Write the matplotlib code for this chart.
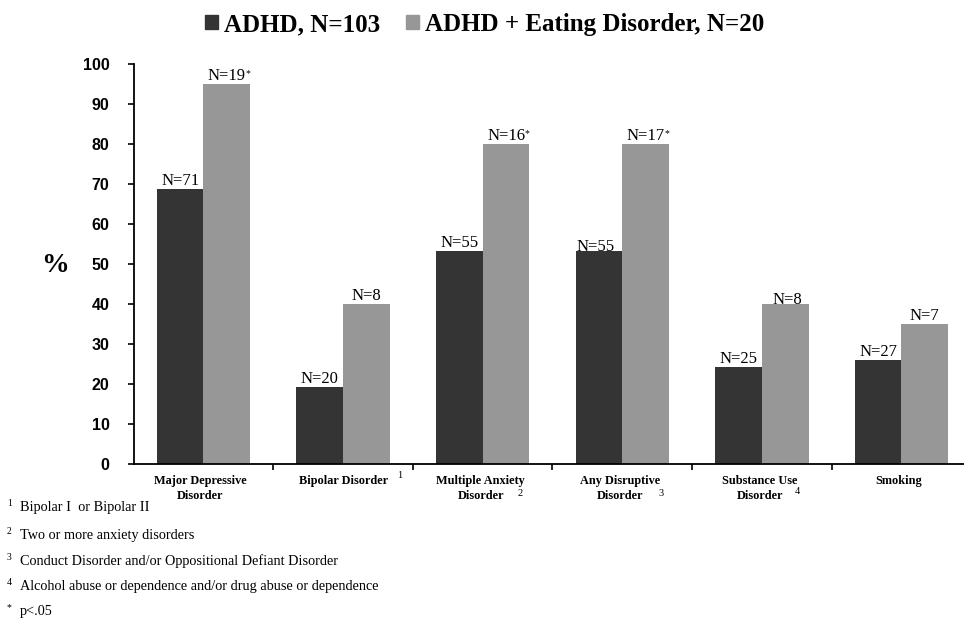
import matplotlib
matplotlib.use('Agg')
import matplotlib.pyplot as plt
import matplotlib.transforms as mtransforms
from matplotlib.patches import Patch
import numpy as np

# ---------------- data ----------------
categories = ["Major Depressive\nDisorder", "Bipolar Disorder", "Multiple Anxiety\nDisorder",
              "Any Disruptive\nDisorder", "Substance Use\nDisorder", "Smoking"]
category_notes = ["", "1", "2", "3", "4", ""]
adhd_pct = [68.9, 19.4, 53.4, 53.4, 24.3, 26.2]
adhd_ed_pct = [95, 40, 80, 80, 40, 35]
adhd_n = ["N=71", "N=20", "N=55", "N=55", "N=25", "N=27"]
adhd_ed_n = ["N=19", "N=8", "N=16", "N=17", "N=8", "N=7"]
adhd_ed_sig = [True, False, True, True, False, False]
series_names = ["ADHD, N=103", "ADHD + Eating Disorder, N=20"]
y_ticks = [0, 10, 20, 30, 40, 50, 60, 70, 80, 90, 100]
footnote_marks = ["1", "2", "3", "4", "*"]
footnote_texts = ["Bipolar I  or Bipolar II", "Two or more anxiety disorders",
                  "Conduct Disorder and/or Oppositional Defiant Disorder",
                  "Alcohol abuse or dependence and/or drug abuse or dependence",
                  "p<.05"]

# ---------------- style ----------------
DARK = '#343434'
GRAY = '#979797'
SERIF = ['Liberation Serif', 'DejaVu Serif']
SANS = ['Liberation Sans', 'DejaVu Sans']
W, H = 964, 618
dark_nudge = [(0, 0), (0, 0), (0, 0), (-3, -4), (0, 0), (0, 0)]
gray_nudge = [(0, 0), (0, 0), (0, 0), (0, 0), (2, -4), (0, 0)]
label_dx = [-3, 0, -2, -2, -2, -3]
line_y = [481, 496]
note_dx = [0, 57, 37, 39, 35, 0]
note_y = [0, 475, 493, 493, 492, 0]

fig = plt.figure(figsize=(W / 100, H / 100), dpi=100)
ax = fig.add_axes([133.7 / W, (H - 464.3) / H, 6 * 139.6 / W, 400 / H])

x = np.arange(len(categories))
w = 0.335
ax.bar(x - w / 2, adhd_pct, w, color=DARK, label=series_names[0])
ax.bar(x + w / 2, adhd_ed_pct, w, color=GRAY, label=series_names[1])

ax.set_xlim(-0.5, len(categories) - 0.5)
ax.set_ylim(0, 100)
ax.set_yticks(y_ticks)
ax.set_yticklabels([str(v) for v in y_ticks], fontfamily=SANS, fontweight='bold', fontsize=11.5)
ax.set_xticks(x)
ax.set_xticklabels([''] * len(categories))
ax.set_xticks(np.arange(len(categories) - 1) + 0.5, minor=True)
ax.tick_params(axis='x', which='major', length=0)
ax.tick_params(axis='x', which='minor', length=4, width=1.2, direction='out', color='black')
ax.tick_params(axis='y', which='major', length=4.5, width=1.2, direction='out', pad=13)
for s in ['top', 'right']:
    ax.spines[s].set_visible(False)
for s in ['left', 'bottom']:
    ax.spines[s].set_linewidth(1.3)
    ax.spines[s].set_color('black')

# category labels (one text per line) and footnote marks
trans_x = mtransforms.blended_transform_factory(ax.transData, fig.transFigure)
for i, cat in enumerate(categories):
    for j, line in enumerate(cat.split('\n')):
        ax.annotate(line, xy=(x[i], 1 - line_y[j] / H), xycoords=trans_x,
                    xytext=(label_dx[i], 0), textcoords='offset pixels',
                    ha='center', va='center', fontsize=8.8, fontweight='bold',
                    fontfamily=SERIF, annotation_clip=False)
    if category_notes[i]:
        ax.annotate(category_notes[i], xy=(x[i], 1 - note_y[i] / H), xycoords=trans_x,
                    xytext=(note_dx[i], 0), textcoords='offset pixels',
                    ha='center', va='center', fontsize=7.5, fontfamily=SERIF,
                    annotation_clip=False)

# bar value labels
labels = []
for i in range(len(categories)):
    ax.annotate(adhd_n[i], xy=(x[i] - w / 2, adhd_pct[i]), xytext=dark_nudge[i],
                textcoords='offset pixels', ha='center', va='bottom',
                fontsize=12, fontfamily=SERIF)
    t2 = ax.annotate(adhd_ed_n[i], xy=(x[i] + w / 2, adhd_ed_pct[i]), xytext=gray_nudge[i],
                     textcoords='offset pixels', ha='center', va='bottom',
                     fontsize=12, fontfamily=SERIF)
    labels.append((t2, adhd_ed_sig[i]))

fig.canvas.draw()
renderer = fig.canvas.get_renderer()
for t, sig in labels:
    if sig:
        bb = t.get_window_extent(renderer)
        fig.text((bb.x1 - 0.5) / W, (bb.y1 - 1) / H, '*', fontsize=7, fontfamily=SERIF,
                 ha='left', va='top')

# y label
fig.text(54.5 / W, 1 - 265.5 / H, '%', fontsize=20, fontweight='bold', fontfamily=SERIF,
         ha='center', va='center')

# legend
fig.legend(handles=[Patch(color=DARK), Patch(color=GRAY)], labels=series_names,
           loc='center', bbox_to_anchor=(484.7 / W, 1 - 24.5 / H), ncol=2, frameon=False,
           prop={'family': SERIF, 'weight': 'bold', 'size': 18},
           handlelength=0.52, handleheight=0.52, handletextpad=0.22, columnspacing=1.05,
           borderpad=0, borderaxespad=0)

# footnotes
foot_y = [508, 535, 561, 586.5, 612]
for mark, txt, yy in zip(footnote_marks, footnote_texts, foot_y):
    fig.text(20 / W, 1 - yy / H, txt, fontsize=10.3, fontfamily=SERIF, ha='left', va='center')
    fig.text(7 / W, 1 - (yy - 4) / H, mark, fontsize=7, fontfamily=SERIF, ha='left', va='center')

fig.savefig('out.png', dpi=100)
